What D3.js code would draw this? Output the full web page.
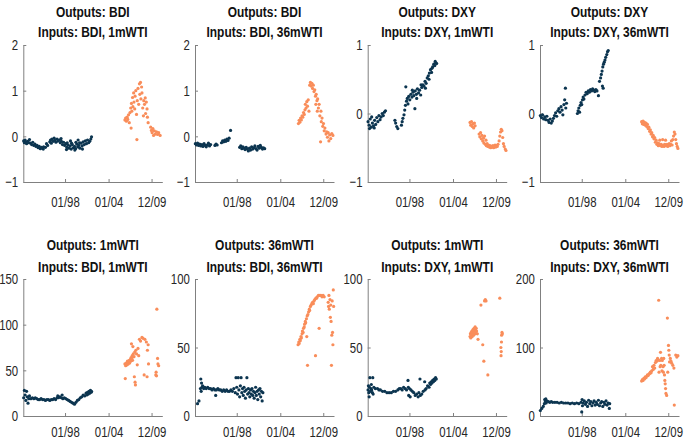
<!DOCTYPE html>
<html><head><meta charset="utf-8">
<script src="https://cdn.jsdelivr.net/npm/d3@7"></script>
<style>
html,body{margin:0;padding:0;background:#fff;}
svg text{font-family:"Liberation Sans",Arial,Helvetica,sans-serif;}
</style></head>
<body><svg id="c" width="685" height="440"></svg>
<script>
const tickYears = [1998.0, 2004.0, 2009.92];
const tickLabels = ["01/98", "01/04", "12/09"];
const xDomain = [1992.25, 2011.4];
const titleLine1 = ["Outputs: BDI","Outputs: BDI","Outputs: DXY","Outputs: DXY","Outputs: 1mWTI","Outputs: 36mWTI","Outputs: 1mWTI","Outputs: 36mWTI"];
const titleLine2 = ["Inputs: BDI, 1mWTI","Inputs: BDI, 36mWTI","Inputs: DXY, 1mWTI","Inputs: DXY, 36mWTI","Inputs: BDI, 1mWTI","Inputs: BDI, 36mWTI","Inputs: DXY, 1mWTI","Inputs: DXY, 36mWTI"];
const yDomains = [[-1,2],[-1,2],[-1,1],[-1,1],[0,150],[0,100],[0,100],[0,200]];
const yTickValues = [[-1,0,1,2],[-1,0,1,2],[-1,0,1],[-1,0,1],[0,50,100,150],[0,50,100],[0,50,100],[0,100,200]];

const navy1 = [[1992.3,-0.10],[1992.4,-0.14],[1992.5,-0.08],[1992.6,-0.12],[1992.7,-0.16],[1992.85,-0.11],[1993.0,-0.14],[1993.1,-0.07],[1993.25,-0.15],[1993.4,-0.18],[1993.55,-0.13],[1993.7,-0.20],[1993.85,-0.17],[1994.0,-0.22],[1994.15,-0.20],[1994.3,-0.25],[1994.45,-0.22],[1994.6,-0.27],[1994.75,-0.24],[1994.9,-0.26],[1995.0,-0.28],[1995.05,-0.23],[1995.3,-0.24],[1995.45,-0.16],[1995.6,-0.20],[1995.9,-0.12],[1996.0,-0.08],[1996.1,-0.15],[1996.2,-0.06],[1996.35,-0.11],[1996.5,-0.04],[1996.6,-0.09],[1996.75,-0.13],[1996.9,-0.06],[1997.05,-0.10],[1997.2,-0.08],[1997.35,-0.14],[1997.45,-0.05],[1997.5,-0.11],[1997.65,-0.18],[1997.8,-0.13],[1997.95,-0.20],[1998.1,-0.16],[1998.2,-0.29],[1998.25,-0.24],[1998.3,-0.14],[1998.4,-0.19],[1998.55,-0.26],[1998.7,-0.21],[1998.75,-0.10],[1998.85,-0.28],[1998.9,-0.15],[1999.0,-0.18],[1999.15,-0.25],[1999.3,-0.22],[1999.35,-0.30],[1999.45,-0.27],[1999.5,-0.13],[1999.6,-0.17],[1999.75,-0.23],[1999.8,-0.08],[1999.9,-0.20],[2000.0,-0.14],[2000.05,-0.26],[2000.2,-0.15],[2000.35,-0.21],[2000.4,-0.28],[2000.5,-0.12],[2000.65,-0.18],[2000.8,-0.10],[2000.95,-0.16],[2001.1,-0.08],[2001.25,-0.14],[2001.4,-0.11],[2001.55,-0.06],[2001.65,-0.01]];
const orange1 = [[2006.25,0.36],[2006.35,0.40],[2006.45,0.33],[2006.55,0.42],[2006.65,0.37],[2006.75,0.47],[2006.85,0.30],[2006.95,0.52],[2007.05,0.62],[2007.1,0.18],[2007.15,0.72],[2007.2,0.55],[2007.3,0.85],[2007.35,0.65],[2007.45,0.95],[2007.5,0.75],[2007.6,0.60],[2007.65,0.88],[2007.75,1.0],[2007.85,0.48],[2007.9,-0.07],[2007.95,0.78],[2008.05,1.05],[2008.15,0.70],[2008.25,1.15],[2008.3,0.92],[2008.4,1.18],[2008.45,0.82],[2008.55,1.08],[2008.6,0.95],[2008.7,0.62],[2008.8,0.45],[2008.85,0.78],[2008.95,0.70],[2009.05,0.84],[2009.1,0.50],[2009.2,0.75],[2009.3,0.60],[2009.35,0.42],[2009.45,0.30],[2009.8,0.20],[2009.9,0.13],[2010.0,0.08],[2010.1,0.17],[2010.2,0.02],[2010.3,0.12],[2010.45,0.05],[2010.6,0.10],[2010.75,0.04],[2010.9,0.08],[2011.1,0.02]];

const navy2 = [[1992.3,-0.16],[1992.45,-0.19],[1992.6,-0.15],[1992.75,-0.20],[1992.9,-0.17],[1993.05,-0.21],[1993.2,-0.18],[1993.35,-0.22],[1993.5,-0.16],[1993.65,-0.20],[1993.8,-0.23],[1993.95,-0.19],[1994.1,-0.15],[1994.25,-0.21],[1994.4,-0.18],[1995.0,-0.20],[1995.15,-0.17],[1995.3,-0.19],[1995.9,-0.14],[1996.05,-0.10],[1996.2,-0.12],[1996.35,-0.08],[1996.5,-0.11],[1996.65,-0.06],[1996.8,-0.09],[1996.95,-0.04],[1997.15,0.13],[1998.4,-0.24],[1998.55,-0.21],[1998.7,-0.27],[1998.85,-0.23],[1999.0,-0.26],[1999.15,-0.29],[1999.3,-0.24],[1999.45,-0.28],[1999.6,-0.32],[1999.75,-0.26],[1999.9,-0.30],[2000.05,-0.23],[2000.2,-0.28],[2000.35,-0.25],[2000.5,-0.21],[2000.65,-0.27],[2000.8,-0.30],[2000.95,-0.22],[2001.1,-0.26],[2001.25,-0.20],[2001.4,-0.24],[2001.55,-0.28],[2001.7,-0.25],[2001.85,-0.27]];
const orange2 = [[2006.5,0.28],[2006.6,0.35],[2006.7,0.31],[2006.8,0.40],[2006.9,0.36],[2007.0,0.45],[2007.1,0.42],[2007.2,0.52],[2007.3,0.48],[2007.4,0.58],[2007.45,0.70],[2007.55,0.62],[2007.65,0.76],[2007.75,0.66],[2007.85,0.80],[2007.95,0.55],[2008.05,1.12],[2008.15,1.18],[2008.25,1.10],[2008.35,1.16],[2008.45,1.05],[2008.55,1.12],[2008.65,0.98],[2008.75,1.02],[2008.85,0.88],[2008.9,0.70],[2008.95,0.92],[2009.05,0.78],[2009.1,0.55],[2009.15,0.82],[2009.25,0.62],[2009.35,0.70],[2009.45,0.45],[2009.55,-0.12],[2009.6,0.55],[2009.65,0.32],[2009.75,0.40],[2009.85,0.22],[2009.95,0.28],[2010.05,0.12],[2010.15,0.18],[2010.3,0.05],[2010.4,0.10],[2010.5,-0.02],[2010.6,0.08],[2010.7,-0.10],[2010.8,0.03],[2010.95,-0.05],[2011.1,0.06],[2011.25,0.02]];

const navy3 = [[1992.3,-0.12],[1992.45,-0.17],[1992.5,-0.22],[1992.6,-0.08],[1992.75,-0.20],[1992.8,-0.05],[1992.9,-0.14],[1993.05,-0.18],[1993.15,-0.21],[1993.2,-0.10],[1993.35,-0.16],[1993.5,-0.06],[1993.65,-0.12],[1993.8,-0.03],[1993.95,-0.09],[1994.1,-0.05],[1994.25,0.0],[1994.4,-0.03],[1994.55,0.02],[1994.7,0.04],[1996.0,-0.10],[1996.1,-0.14],[1996.25,-0.19],[1996.4,-0.22],[1996.9,-0.17],[1997.0,-0.12],[1997.1,-0.07],[1997.25,-0.02],[1997.35,0.05],[1997.45,0.12],[1997.5,0.39],[1997.6,0.18],[1997.7,0.22],[1997.8,0.14],[1997.9,0.25],[1998.05,0.20],[1998.2,0.28],[1998.35,0.24],[1998.4,0.34],[1998.5,0.31],[1998.6,0.26],[1998.75,0.07],[1998.8,0.33],[1998.95,0.28],[1999.0,0.22],[1999.1,0.36],[1999.25,0.30],[1999.4,0.34],[1999.55,0.27],[1999.6,0.42],[1999.7,0.38],[1999.85,0.42],[2000.0,0.40],[2000.15,0.47],[2000.2,0.37],[2000.3,0.44],[2000.45,0.52],[2000.6,0.55],[2000.7,0.50],[2000.75,0.59],[2000.9,0.64],[2001.05,0.60],[2001.1,0.66],[2001.2,0.68],[2001.35,0.72],[2001.5,0.70],[2001.55,0.76],[2001.65,0.74],[2001.75,0.73]];
const orange3 = [[2006.35,-0.13],[2006.45,-0.17],[2006.55,-0.12],[2006.65,-0.19],[2006.75,-0.15],[2006.85,-0.21],[2006.95,-0.14],[2007.05,-0.18],[2007.6,-0.30],[2007.7,-0.34],[2007.8,-0.28],[2007.9,-0.37],[2008.0,-0.32],[2008.1,-0.40],[2008.2,-0.36],[2008.25,-0.43],[2008.35,-0.33],[2008.45,-0.45],[2008.55,-0.39],[2008.6,-0.47],[2008.7,-0.44],[2008.8,-0.48],[2008.9,-0.46],[2009.0,-0.49],[2009.1,-0.47],[2009.2,-0.50],[2009.3,-0.48],[2009.4,-0.49],[2009.5,-0.47],[2009.6,-0.50],[2009.7,-0.48],[2009.8,-0.46],[2009.9,-0.49],[2010.0,-0.47],[2010.1,-0.48],[2010.2,-0.45],[2010.35,-0.40],[2010.45,-0.33],[2010.55,-0.27],[2010.65,-0.23],[2010.75,-0.25],[2010.85,-0.35],[2010.95,-0.44],[2011.05,-0.48],[2011.2,-0.52],[2011.3,-0.54]];

const navy4 = [[1992.3,-0.03],[1992.45,-0.06],[1992.6,-0.02],[1992.75,-0.08],[1992.9,-0.05],[1993.05,-0.09],[1993.2,-0.04],[1993.35,-0.10],[1993.5,-0.13],[1993.65,-0.08],[1993.8,-0.14],[1993.95,-0.11],[1994.1,-0.07],[1994.25,-0.03],[1994.4,0.01],[1994.55,-0.04],[1994.7,0.04],[1994.85,0.07],[1995.0,0.02],[1995.15,0.10],[1995.3,0.05],[1995.4,-0.02],[1995.55,0.13],[1995.65,0.20],[1995.75,0.37],[1995.8,0.08],[1995.9,0.15],[1997.4,0.0],[1997.5,0.04],[1997.6,0.08],[1997.7,0.02],[1997.8,0.12],[1997.9,0.16],[1998.0,0.13],[1998.1,0.20],[1998.2,0.24],[1998.3,0.21],[1998.45,0.27],[1998.6,0.31],[1998.75,0.29],[1998.9,0.33],[1999.05,0.31],[1999.2,0.35],[1999.35,0.33],[1999.5,0.36],[1999.65,0.34],[1999.8,0.32],[1999.95,0.35],[2000.1,0.33],[2000.3,0.26],[2000.45,0.47],[2000.6,0.52],[2000.7,0.57],[2000.8,0.62],[2000.85,0.40],[2000.9,0.68],[2000.95,0.37],[2001.0,0.72],[2001.1,0.75],[2001.2,0.78],[2001.3,0.82],[2001.45,0.86],[2001.55,0.90],[2001.65,0.92]];
const orange4 = [[2006.25,-0.12],[2006.35,-0.15],[2006.45,-0.11],[2006.55,-0.16],[2006.65,-0.13],[2006.75,-0.17],[2006.85,-0.14],[2006.95,-0.19],[2007.05,-0.16],[2007.15,-0.22],[2007.25,-0.20],[2007.35,-0.26],[2007.45,-0.24],[2007.55,-0.30],[2007.65,-0.28],[2007.75,-0.34],[2007.85,-0.32],[2007.95,-0.37],[2008.05,-0.35],[2008.15,-0.42],[2008.25,-0.39],[2008.35,-0.45],[2008.45,-0.43],[2008.55,-0.47],[2008.65,-0.44],[2008.75,-0.39],[2008.85,-0.47],[2008.95,-0.45],[2009.05,-0.48],[2009.15,-0.38],[2009.25,-0.46],[2009.35,-0.48],[2009.45,-0.45],[2009.55,-0.39],[2009.65,-0.47],[2009.75,-0.45],[2009.85,-0.48],[2009.95,-0.46],[2010.05,-0.44],[2010.15,-0.47],[2010.25,-0.45],[2010.35,-0.40],[2010.45,-0.46],[2010.55,-0.38],[2010.65,-0.33],[2010.75,-0.27],[2010.85,-0.30],[2010.95,-0.38],[2011.05,-0.44],[2011.15,-0.48],[2011.25,-0.51]];

const navy5 = [[1992.3,20],[1992.4,28],[1992.5,23],[1992.6,17],[1992.7,27],[1992.8,21],[1992.9,14],[1993.0,19],[1993.1,22],[1993.3,19],[1993.5,20],[1993.7,19],[1993.9,20],[1994.1,19],[1994.3,18],[1994.5,18],[1994.7,19],[1994.9,18],[1995.1,18],[1995.3,17],[1995.5,18],[1995.7,18],[1995.9,17],[1996.1,18],[1996.3,18],[1996.5,19],[1996.7,18],[1996.9,20],[1997.0,22],[1997.1,20],[1997.3,21],[1997.5,20],[1997.6,23],[1997.7,19],[1997.9,20],[1998.1,19],[1998.3,18],[1998.5,17],[1998.7,16],[1998.9,15],[1999.1,14],[1999.3,13],[1999.5,15],[1999.7,17],[1999.9,18],[2000.1,20],[2000.3,21],[2000.5,23],[2000.7,22],[2000.9,25],[2001.0,23],[2001.1,26],[2001.2,24],[2001.3,27],[2001.4,25],[2001.5,28],[2001.6,26],[2001.65,27]];
const orange5 = [[2006.25,57],[2006.3,41],[2006.35,55],[2006.45,58],[2006.55,56],[2006.6,60],[2006.7,57],[2006.75,59],[2006.85,61],[2006.9,58],[2007.0,62],[2007.05,60],[2007.1,64],[2007.15,79],[2007.2,63],[2007.25,66],[2007.3,61],[2007.35,76],[2007.4,68],[2007.5,65],[2007.55,43],[2007.6,70],[2007.65,37],[2007.7,34],[2007.75,72],[2007.85,68],[2007.95,56],[2008.05,74],[2008.15,66],[2008.25,84],[2008.4,82],[2008.6,86],[2008.75,85],[2008.9,45],[2009.0,84],[2009.2,81],[2009.3,43],[2009.35,72],[2009.45,78],[2009.5,57],[2010.5,45],[2010.55,48],[2010.6,44],[2010.65,117],[2010.75,63],[2010.8,57],[2010.9,55]];

const navy6 = [[1992.6,9],[1992.8,11],[1993.0,20],[1993.05,27],[1993.1,18],[1993.15,24],[1993.2,21],[1993.3,22],[1993.45,20],[1993.6,21],[1993.8,20],[1994.0,21],[1994.2,20],[1994.4,20],[1994.6,19],[1994.8,20],[1995.0,19],[1995.1,15],[1995.2,19],[1995.4,20],[1995.6,19],[1995.8,19],[1996.0,18],[1996.2,19],[1996.4,18],[1996.6,19],[1996.8,18],[1997.0,18],[1997.2,19],[1997.4,18],[1997.6,20],[1997.8,17],[1997.9,28],[1998.0,21],[1998.1,16],[1998.2,28],[1998.3,19],[1998.4,14],[1998.5,22],[1998.6,28],[1998.7,17],[1998.8,20],[1998.9,15],[1999.0,21],[1999.1,18],[1999.2,13],[1999.3,19],[1999.4,28],[1999.5,16],[1999.6,20],[1999.7,17],[1999.8,14],[1999.9,19],[2000.0,16],[2000.1,20],[2000.2,15],[2000.3,18],[2000.4,13],[2000.5,17],[2000.6,21],[2000.7,15],[2000.8,18],[2000.9,12],[2001.0,19],[2001.1,16],[2001.2,20],[2001.3,14],[2001.4,18],[2001.5,11],[2001.6,17]];
const orange6 = [[2006.45,52],[2006.55,54],[2006.6,53],[2006.7,56],[2006.75,55],[2006.85,58],[2006.9,57],[2007.0,60],[2007.05,62],[2007.15,61],[2007.2,64],[2007.3,65],[2007.35,67],[2007.45,69],[2007.5,68],[2007.6,71],[2007.65,58],[2007.7,73],[2007.75,37],[2007.8,74],[2007.9,76],[2008.0,78],[2008.05,77],[2008.15,80],[2008.25,81],[2008.35,82],[2008.45,83],[2008.55,82],[2008.65,84],[2008.75,85],[2008.85,44],[2008.9,86],[2009.0,86],[2009.1,87],[2009.25,88],[2009.35,64],[2009.45,88],[2009.6,88],[2009.75,87],[2009.9,88],[2010.05,87],[2010.6,83],[2010.65,80],[2010.7,88],[2010.75,78],[2010.85,85],[2010.9,72],[2010.95,81],[2011.0,69],[2011.05,37],[2011.1,59],[2011.15,84],[2011.2,61],[2011.25,52],[2011.3,92],[2011.35,80]];

const navy7 = [[1992.3,19],[1992.35,22],[1992.4,17],[1992.45,14],[1992.5,21],[1992.55,28],[1992.6,18],[1992.7,20],[1992.75,23],[1992.8,19],[1992.9,17],[1992.95,28],[1993.0,16],[1993.1,21],[1993.3,20],[1993.6,20],[1993.8,19],[1994.0,19],[1994.3,18],[1994.6,18],[1994.9,17],[1995.2,17],[1995.5,17],[1995.8,18],[1996.1,18],[1996.4,19],[1996.6,20],[1996.8,20],[1997.0,19],[1997.2,21],[1997.4,20],[1997.6,19],[1997.8,26],[1997.85,21],[1997.9,15],[1998.0,20],[1998.1,14],[1998.2,19],[1998.4,18],[1998.6,17],[1998.8,15],[1999.0,16],[1999.2,14],[1999.3,17],[1999.45,27],[1999.5,15],[1999.7,16],[1999.9,18],[2000.1,25],[2000.15,19],[2000.3,20],[2000.5,22],[2000.7,21],[2000.8,24],[2000.9,23],[2001.0,25],[2001.1,24],[2001.2,26],[2001.3,25],[2001.4,27],[2001.5,26],[2001.6,28],[2001.7,27]];
const orange7 = [[2006.35,58],[2006.4,60],[2006.45,57],[2006.5,61],[2006.55,59],[2006.6,62],[2006.65,58],[2006.7,60],[2006.75,63],[2006.8,61],[2006.85,59],[2006.9,64],[2006.95,62],[2007.0,60],[2007.05,65],[2007.1,63],[2007.15,61],[2007.2,64],[2007.25,62],[2007.35,60],[2007.45,56],[2007.85,81],[2008.1,52],[2008.25,40],[2008.35,84],[2008.45,85],[2008.55,84],[2008.8,30],[2010.45,86],[2010.6,50],[2010.62,44],[2010.65,47],[2010.68,54],[2010.7,59],[2010.75,61],[2010.8,60]];

const navy8 = [[1992.3,8],[1992.5,11],[1992.7,14],[1992.85,18],[1992.9,24],[1993.0,21],[1993.05,25],[1993.1,19],[1993.2,22],[1993.4,21],[1993.6,20],[1993.8,21],[1994.0,20],[1994.3,20],[1994.6,20],[1994.9,19],[1995.2,20],[1995.5,19],[1995.8,19],[1996.1,19],[1996.4,18],[1996.7,19],[1997.0,18],[1997.3,19],[1997.6,18],[1997.9,20],[1998.0,6],[1998.05,24],[1998.1,15],[1998.2,19],[1998.35,22],[1998.5,17],[1998.65,20],[1998.8,14],[1998.95,23],[1999.1,18],[1999.25,21],[1999.4,15],[1999.55,19],[1999.7,22],[1999.85,16],[2000.0,20],[2000.15,17],[2000.3,23],[2000.45,15],[2000.6,19],[2000.75,21],[2000.9,14],[2001.05,20],[2001.2,17],[2001.35,22],[2001.5,16],[2001.65,19],[2001.8,11],[2001.85,18]];
const orange8 = [[2006.25,51],[2006.35,53],[2006.45,52],[2006.55,55],[2006.65,54],[2006.75,57],[2006.85,56],[2006.95,58],[2007.05,60],[2007.15,59],[2007.25,61],[2007.35,62],[2007.45,64],[2007.55,63],[2007.65,66],[2007.75,72],[2007.85,68],[2007.95,74],[2008.05,70],[2008.15,78],[2008.25,81],[2008.35,80],[2008.45,84],[2008.55,82],[2008.6,169],[2008.65,64],[2008.75,81],[2008.8,72],[2008.85,93],[2008.9,74],[2009.0,84],[2009.05,66],[2009.1,81],[2009.2,72],[2009.25,64],[2009.3,84],[2009.35,74],[2009.4,60],[2009.45,52],[2009.5,47],[2009.55,40],[2009.6,33],[2009.7,30],[2009.8,143],[2009.85,64],[2009.95,103],[2010.0,96],[2010.05,89],[2010.1,79],[2010.2,84],[2010.3,80],[2010.4,77],[2010.55,74],[2010.7,70],[2010.75,16],[2010.95,89],[2011.1,86],[2011.25,88]];

const navySeries = [navy1,navy2,navy3,navy4,navy5,navy6,navy7,navy8];
const orangeSeries = [orange1,orange2,orange3,orange4,orange5,orange6,orange7,orange8];

const NAVY = "#0c3550", ORANGE = "#f98d5a", AXIS = "#808080", TXT = "#262626";
const SX = 0.76;
const lefts = [23.3, 195, 367.7, 540];
const tops = [45, 279];
const W = 139, H = 137;
const svg = d3.select("#c");

for (let i = 0; i < 8; i++) {
  const col = i % 4, row = Math.floor(i / 4);
  const g = svg.append("g").attr("transform", `translate(${lefts[col]},${tops[row]})`);
  const x = d3.scaleLinear().domain(xDomain).range([0, W]);
  const y = d3.scaleLinear().domain(yDomains[i]).range([H, 0]);

  const ya = g.append("g").call(d3.axisLeft(y).tickValues(yTickValues[i]).tickSizeInner(-3).tickSizeOuter(0).tickPadding(6.8).tickFormat(d3.format("d")));
  const xa = g.append("g").attr("transform", `translate(0,${H})`)
    .call(d3.axisBottom(x).tickValues(tickYears).tickSizeInner(-3).tickSizeOuter(0).tickPadding(row === 0 ? 14 : 10).tickFormat((d, k) => tickLabels[k]));
  [ya, xa].forEach(a => {
    a.select(".domain").attr("stroke", AXIS).attr("stroke-width", 1);
    a.selectAll(".tick line").attr("stroke", AXIS);
    a.selectAll(".tick text").attr("fill", TXT).style("font-size", "15px").attr("transform", `scale(${SX},1)`);
  });

  g.append("g").selectAll("circle").data(navySeries[i]).join("circle")
    .attr("cx", d => x(d[0])).attr("cy", d => y(d[1])).attr("r", 1.6).attr("fill", NAVY);
  g.append("g").selectAll("circle").data(orangeSeries[i]).join("circle")
    .attr("cx", d => x(d[0])).attr("cy", d => y(d[1])).attr("r", 1.6).attr("fill", ORANGE);

  const tx = W / 2;
  const t1y = row === 0 ? 12 - tops[0] : 245 - tops[1];
  const t2y = row === 0 ? 32 - tops[0] : 267 - tops[1];
  [[t1y, titleLine1[i]], [t2y, titleLine2[i]]].forEach(([ty, s]) => {
    g.append("text").attr("transform", `translate(${tx},${ty}) scale(0.77,1)`).attr("dy", "0.35em").attr("text-anchor", "middle")
      .attr("fill", "#111").style("font-size", "15.5px").style("font-weight", "bold").text(s);
  });
}
</script></body></html>
